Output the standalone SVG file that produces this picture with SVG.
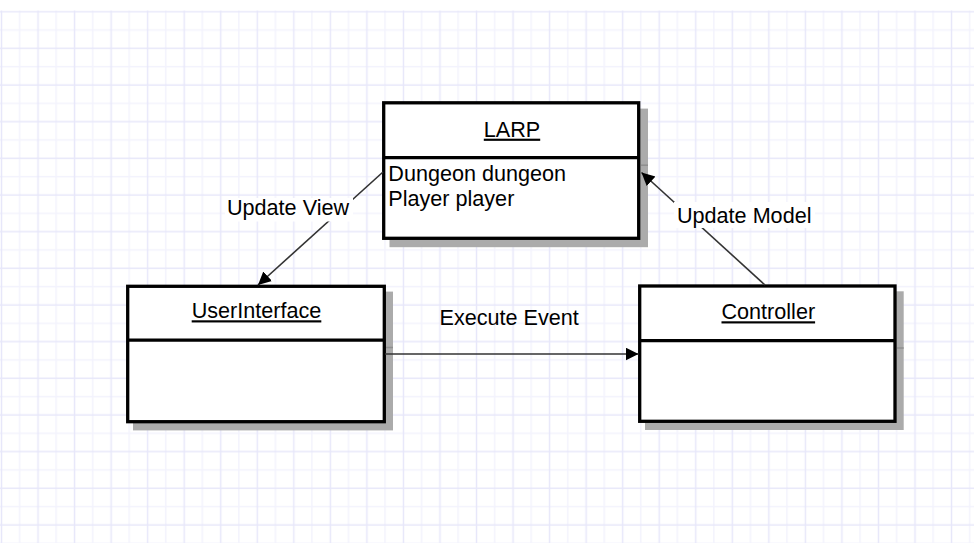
<svg xmlns="http://www.w3.org/2000/svg" width="974" height="543" viewBox="0 0 974 543">
<style>
.box{fill:#fff;stroke:#000;stroke-width:3.3}
.div{stroke:#000;stroke-width:3.3}
.shadow{fill:#ababab;stroke:none}
.shdiv{stroke:#8f8f8f;stroke-width:1.5}
.t{font-family:"Liberation Sans",Arial,Helvetica,sans-serif;font-size:21.6px;fill:#000}
.title{text-anchor:middle;text-decoration:underline}
.conn{stroke:#333;stroke-width:1.6;fill:none;marker-end:url(#ah)}
.lbg{fill:#fff}
</style>
<defs>
<pattern id="grid" patternUnits="userSpaceOnUse" x="0" y="10.5" width="36.54" height="36.66">
<rect x="0" y="0" width="36.54" height="36.66" fill="#fff"/>
<rect x="18.9" y="0" width="1.4" height="36.66" fill="#f3f3fd"/>
<rect x="0" y="18.8" width="36.54" height="1.4" fill="#f3f3fd"/>
<rect x="0.8" y="0" width="1.4" height="36.66" fill="#e7e7fa"/>
<rect x="0" y="0.5" width="36.54" height="1.4" fill="#e7e7fa"/>
</pattern>
<marker id="ah" markerUnits="userSpaceOnUse" markerWidth="14" markerHeight="14" refX="13" refY="6.5" orient="auto">
<path d="M0,0 L13,6.5 L0,13 z" fill="#000"/>
</marker>
</defs>
<rect x="0" y="0" width="974" height="543" fill="#fff"/>
<rect x="0" y="10.5" width="974" height="533" fill="url(#grid)"/>

<g id="LARP">
<rect class="shadow" x="389.5" y="108.6" width="258.5" height="138.6"/>
<line class="shdiv" x1="641" y1="165.2" x2="648" y2="165.2"/>
<rect class="box" x="383.7" y="102.8" width="255" height="135.5"/>
<line class="div" x1="383.7" y1="157.7" x2="638.7" y2="157.7"/>
<text class="t title" x="512" y="136.7">LARP</text>
<text class="t" x="388.3" y="181">Dungeon dungeon</text>
<text class="t" x="388.3" y="206">Player player</text>
</g>

<g id="UserInterface">
<rect class="shadow" x="133" y="291.6" width="260" height="138.8"/>
<line class="shdiv" x1="386" y1="347.5" x2="393" y2="347.5"/>
<rect class="box" x="127.7" y="286.3" width="256.6" height="135.4"/>
<line class="div" x1="127.7" y1="340.2" x2="384.3" y2="340.2"/>
<text class="t title" x="256.5" y="318.3">UserInterface</text>
</g>

<g id="Controller">
<rect class="shadow" x="645" y="291.3" width="258.7" height="138.7"/>
<line class="shdiv" x1="897" y1="348" x2="903.7" y2="348"/>
<rect class="box" x="639.7" y="286" width="255.3" height="135.3"/>
<line class="div" x1="639.7" y1="340.7" x2="895" y2="340.7"/>
<text class="t title" x="768.3" y="319.3">Controller</text>
</g>

<g id="connectors">
<line class="conn" x1="383" y1="172" x2="258" y2="285"/>
<line class="conn" x1="765" y1="285" x2="641.5" y2="172.5"/>
<line class="conn" x1="385" y1="354" x2="638.5" y2="354"/>
<rect class="lbg" x="225" y="198" width="128" height="23.5"/>
<text class="t" x="227" y="215">Update View</text>
<rect class="lbg" x="674" y="202" width="141" height="26"/>
<text class="t" x="677" y="222.7">Update Model</text>
<text class="t" x="439.5" y="325">Execute Event</text>
</g>
</svg>
